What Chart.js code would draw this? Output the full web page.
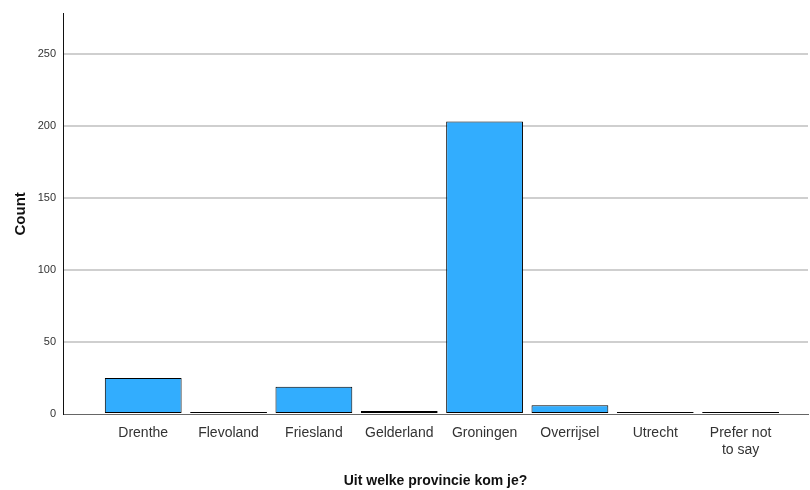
<!DOCTYPE html>
<html>
<head>
<meta charset="utf-8">
<script src="https://cdn.jsdelivr.net/npm/chart.js@4"></script>
<style>
  html, body { margin: 0; padding: 0; background: #fff; }
  #wrap { width: 810px; height: 490px; }
</style>
</head>
<body>
<div id="wrap"><canvas id="chart"></canvas></div>
<script>
var provinces = ['Drenthe', 'Flevoland', 'Friesland', 'Gelderland', 'Groningen', 'Overrijsel', 'Utrecht', ['Prefer not', 'to say']];
var counts = [25, 1, 19, 2, 203, 6, 1, 1];
var countTicks = [0, 50, 100, 150, 200, 250];

var points = counts.map(function(v, i) { return { x: i, y: v }; });

var ctx = document.getElementById('chart').getContext('2d');
var myChart = new Chart(ctx, {
  type: 'bar',
  data: {
    datasets: [{
      data: points,
      backgroundColor: '#32adfe',
      borderColor: '#000',
      borderWidth: 1,
      borderSkipped: false,
      minBarLength: 2,
      categoryPercentage: 0.9,
      barPercentage: 1
    }]
  },
  options: {
    responsive: true,
    maintainAspectRatio: false,
    animation: false,
    layout: { padding: { left: 8, right: 2, top: 12, bottom: 0 } },
    plugins: { legend: { display: false }, tooltip: { enabled: false } },
    scales: {
      x: {
        type: 'linear',
        min: -0.94,
        max: 7.79,
        offset: false,
        afterBuildTicks: function(scale) {
          scale.ticks = provinces.map(function(p, i) { return { value: i }; });
        },
        afterFit: function(scale) { scale.height = 76; },
        grid: { display: false, drawTicks: false },
        border: { color: '#666', width: 1 },
        ticks: {
          autoSkip: false,
          maxRotation: 0,
          padding: 11,
          color: '#333',
          font: { family: 'Liberation Sans, Arial, sans-serif', size: 14 },
          callback: function(v) { return provinces[v]; }
        },
        title: {
          display: true,
          text: 'Uit welke provincie kom je?',
          color: '#111',
          padding: { top: 15, bottom: 0 },
          font: { family: 'Liberation Sans, Arial, sans-serif', size: 14, weight: 'bold' }
        }
      },
      y: {
        min: 0,
        max: 278,
        afterBuildTicks: function(scale) {
          scale.ticks = countTicks.map(function(v) { return { value: v }; });
        },
        afterFit: function(scale) { scale.width = 55; },
        grid: {
          color: function(c) { return c.tick && c.tick.value === 0 ? 'rgba(0,0,0,0)' : '#cfcfcf'; },
          lineWidth: 2,
          drawTicks: false
        },
        border: { color: '#111', width: 1 },
        ticks: {
          padding: 7,
          color: '#333',
          font: { family: 'Liberation Sans, Arial, sans-serif', size: 11 }
        },
        title: {
          display: true,
          text: 'Count',
          color: '#111',
          padding: { bottom: 2 },
          font: { family: 'Liberation Sans, Arial, sans-serif', size: 15, weight: 'bold' }
        }
      }
    }
  }
});
</script>
</body>
</html>
